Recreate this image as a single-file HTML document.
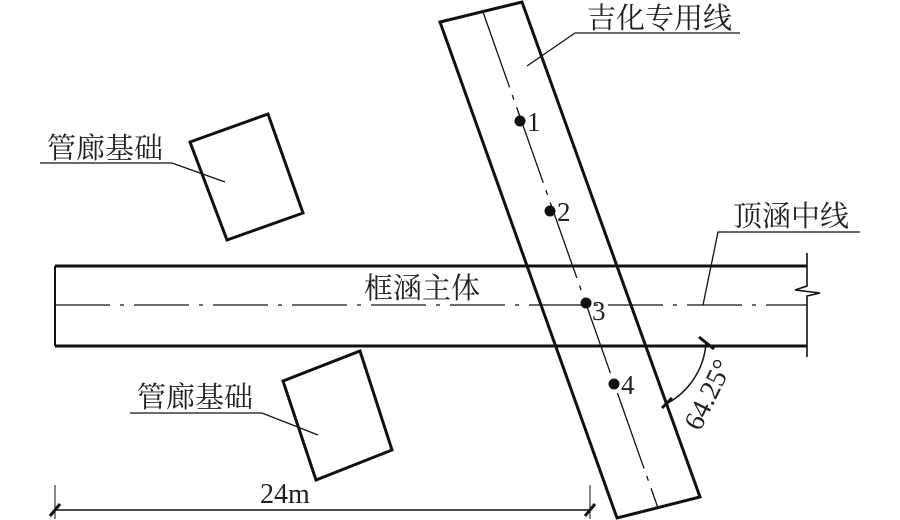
<!DOCTYPE html>
<html><head><meta charset="utf-8"><style>
html,body{margin:0;padding:0;background:#fff;width:900px;height:520px;overflow:hidden}
text{font-family:"Liberation Serif","Noto Serif CJK SC","Noto Sans CJK SC",serif;fill:#222}
</style></head><body>
<svg width="900" height="520" viewBox="0 0 900 520" xmlns="http://www.w3.org/2000/svg">
<g stroke="#111" fill="none" stroke-linecap="butt">
<line x1="55" y1="266" x2="807" y2="266" stroke-width="3"/>
<line x1="55" y1="346" x2="807" y2="346" stroke-width="3"/>
<line x1="55" y1="266" x2="55" y2="346" stroke-width="2"/>
<polyline points="807,253 807,286 795,290 820,293 807,296 807,357" stroke-width="1.6"/>
<line x1="55" y1="305" x2="807" y2="305" stroke-width="1.3" stroke-dasharray="55,10,4,10"/>
<polygon points="440,22 522,2 700,497 617,518" stroke-width="3"/>
<line x1="483" y1="12" x2="658" y2="508" stroke-width="1.3" stroke-dasharray="80,8,5,8"/>
<polygon points="190,142 268,114 303,213 227,240" stroke-width="3"/>
<polygon points="283,381 360,351 392,450 316,480" stroke-width="3"/>
<polyline points="740,33 575,33 527,66" stroke-width="1.3"/>
<polyline points="860,232 718,232 703,305" stroke-width="1.3"/>
<polyline points="40,163 172,163 225,182" stroke-width="1.3"/>
<polyline points="130,413 262,413 318,435" stroke-width="1.3"/>
<path d="M706,343 A75,75 0 0 1 668,403" stroke-width="1.5"/>
<line x1="699" y1="337" x2="714" y2="349" stroke-width="3"/>
<line x1="662" y1="408" x2="672" y2="398" stroke-width="3"/>
<line x1="55" y1="510" x2="590" y2="510" stroke-width="1.5"/>
<line x1="55" y1="485" x2="55" y2="519" stroke-width="1"/>
<line x1="590" y1="485" x2="590" y2="519" stroke-width="1"/>
<line x1="50" y1="516" x2="60" y2="504" stroke-width="3"/>
<line x1="585" y1="516" x2="595" y2="504" stroke-width="3"/>
</g>
<g fill="#111">
<circle cx="520" cy="121" r="5.5"/>
<circle cx="550" cy="211" r="5.5"/>
<circle cx="586" cy="303" r="5.5"/>
<circle cx="614" cy="384" r="5.5"/>
</g>
<text x="527" y="131" font-size="27">1</text>
<text x="557" y="221" font-size="27">2</text>
<text x="592" y="320" font-size="27">3</text>
<text x="621" y="394" font-size="27">4</text>
<text x="587" y="28" font-size="29">吉化专用线</text>
<text x="733" y="226" font-size="29">顶涵中线</text>
<text x="47" y="158" font-size="29">管廊基础</text>
<text x="137" y="407" font-size="29">管廊基础</text>
<text x="364" y="298" font-size="29">框涵主体</text>
<text x="260" y="503" font-size="28">24m</text>
<text x="0" y="0" font-size="28" transform="translate(700,432) rotate(-64)">64.25°</text>
</svg>
</body></html>
